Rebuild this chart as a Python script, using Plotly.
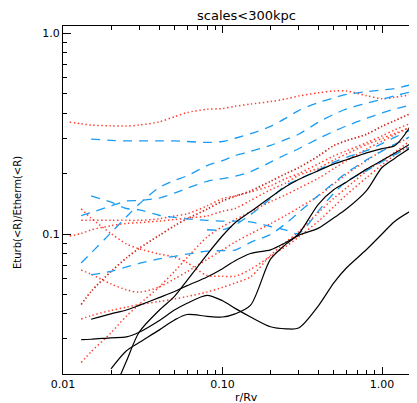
import math
import plotly.graph_objects as go

# radial grid r/Rv shared by all profiles
x_grid = [0.011, 0.013, 0.015, 0.02, 0.025, 0.03, 0.04, 0.05, 0.06, 0.08, 0.1, 0.12,
          0.15, 0.2, 0.25, 0.3, 0.4, 0.5, 0.6, 0.8, 1.0, 1.2, 1.5, 1.85]
N = None

# black solid profiles
black_1 = [N, N, 0.0376, 0.0400, 0.0418, 0.0441, 0.0482, 0.0517, 0.0553, 0.0611, 0.0672, 0.0736,
           0.0800, 0.0834, 0.0908, 0.0985, 0.107, 0.1205, 0.1335, 0.1645, 0.2145, 0.238, 0.268, 0.300]
black_2 = [N, N, N, 0.0154, 0.0233, 0.0324, 0.0416, 0.0489, 0.0588, 0.0790, 0.0980, 0.1138,
           0.1293, 0.1525, 0.1723, 0.187, 0.207, 0.2235, 0.2345, 0.2535, 0.2665, 0.2752, 0.342, 0.466]
black_3 = [N, N, N, 0.0213, 0.0262, 0.0288, 0.0332, 0.0373, 0.0397, 0.0389, 0.0386, 0.0400,
           0.0442, 0.0749, 0.0890, 0.1000, 0.141, 0.1665, 0.1815, 0.2105, 0.2325, 0.2525, 0.281, 0.312]
black_4 = [N, 0.0298, 0.0299, 0.0304, 0.0307, 0.0324, 0.0370, 0.0418, 0.0452, 0.0495, 0.0465, 0.0426,
           0.0386, 0.0345, 0.0337, 0.0340, 0.0440, 0.0573, 0.0679, 0.0837, 0.1000, 0.1155, 0.1297, 0.142]

# red dotted profiles
red_1 = [0.361, 0.354, 0.349, 0.346, 0.345, 0.349, 0.362, 0.384, 0.403, 0.418, 0.422, 0.433,
         0.444, 0.457, 0.471, 0.487, 0.505, 0.516, 0.516, 0.489, 0.472, 0.480, 0.494, 0.510]
red_2 = [N, 0.117, 0.117, 0.117, 0.117, 0.117, 0.119, 0.123, 0.126, 0.138, 0.150, 0.155,
         0.162, 0.174, 0.189, 0.200, 0.224, 0.245, 0.260, 0.285, 0.308, 0.330, 0.355, 0.378]
red_3 = [0.0977, 0.1006, 0.1048, 0.110, 0.113, 0.114, 0.116, 0.118, 0.120, 0.123, 0.130, 0.134,
         0.147, 0.166, 0.180, 0.196, 0.213, 0.234, 0.251, 0.279, 0.299, 0.317, 0.340, 0.365]
red_4 = [N, 0.0445, 0.0517, 0.0650, 0.0760, 0.0849, 0.0983, 0.110, 0.119, 0.133, 0.146, 0.154,
         0.164, 0.183, 0.200, 0.214, 0.245, 0.276, 0.292, 0.314, 0.344, 0.367, 0.397, 0.424]
red_5 = [N, 0.1335, 0.120, 0.1005, 0.0892, 0.0844, 0.0795, 0.0767, 0.0720, 0.0622, 0.0616, 0.0616,
         0.0667, 0.0774, 0.0867, 0.0966, 0.116, 0.137, 0.157, 0.191, 0.221, 0.247, 0.277, 0.307]
red_6 = [N, 0.0661, 0.0631, 0.0564, 0.0527, 0.0513, 0.0544, 0.0598, 0.0649, 0.0747, 0.0832, 0.0912,
         0.1003, 0.1125, 0.124, 0.135, 0.155, 0.178, 0.199, 0.232, 0.260, 0.279, 0.304, 0.330]
red_7 = [N, 0.0377, 0.0392, 0.0416, 0.0432, 0.0445, 0.0461, 0.0475, 0.0488, 0.0514, 0.0542, 0.0570,
         0.0612, 0.0782, 0.0913, 0.1025, 0.128, 0.151, 0.170, 0.206, 0.232, 0.255, 0.292, 0.330]
red_8 = [N, 0.0229, 0.0259, 0.0322, 0.0390, 0.0446, 0.0544, 0.0651, 0.0762, 0.0966, 0.1088, 0.118,
         0.129, 0.145, 0.157, 0.169, 0.190, 0.212, 0.232, 0.265, 0.290, 0.312, 0.341, 0.370]

# blue dashed profiles
blue_1 = [N, N, 0.297, 0.293, 0.291, 0.291, 0.291, 0.291, 0.289, 0.286, 0.289, 0.300,
          0.316, 0.344, 0.378, 0.412, 0.452, 0.477, 0.496, 0.512, 0.522, 0.531, 0.553, 0.578]
blue_2 = [N, 0.0717, 0.0804, 0.1015, 0.122, 0.141, 0.170, 0.185, 0.195, 0.219, 0.232, 0.246,
          0.258, 0.2765, 0.296, 0.314, 0.361, 0.395, 0.420, 0.448, 0.469, 0.488, 0.510, 0.533]
blue_3 = [N, 0.1235, 0.128, 0.138, 0.146, 0.147, 0.151, 0.160, 0.169, 0.183, 0.189, 0.194,
          0.2045, 0.228, 0.249, 0.266, 0.299, 0.325, 0.346, 0.377, 0.401, 0.419, 0.439, 0.460]
blue_4 = [N, N, 0.155, 0.144, 0.134, 0.132, 0.124, 0.121, 0.119, 0.117, 0.116, 0.116,
          0.115, 0.109, 0.1045, 0.1005, 0.1305, 0.160, 0.183, 0.207, 0.229, 0.2485, 0.272, 0.300]
blue_5 = [N, N, 0.0627, 0.0652, 0.0686, 0.0713, 0.0751, 0.0774, 0.0794, 0.0821, 0.0827, 0.0832,
          0.0909, 0.0995, 0.113, 0.128, 0.156, 0.180, 0.202, 0.234, 0.259, 0.280, 0.305, 0.330]
blue_6 = [N, N, N, N, N, N, N, N, N, 0.105, 0.105, 0.111,
          0.125, 0.150, 0.175, 0.187, 0.209, 0.228, 0.241, 0.260, 0.282, 0.303, 0.329, 0.352]

x_tickvals = [0.01, 0.1, 1.0]
x_ticktext = ["0.01", "0.10", "1.00"]
x_minor = [0.02, 0.03, 0.04, 0.05, 0.06, 0.07, 0.08, 0.09,
           0.2, 0.3, 0.4, 0.5, 0.6, 0.7, 0.8, 0.9]
y_tickvals = [0.1, 1.0]
y_ticktext = ["0.1", "1.0"]
y_minor = [0.03, 0.04, 0.05, 0.06, 0.07, 0.08, 0.09,
           0.2, 0.3, 0.4, 0.5, 0.6, 0.7, 0.8, 0.9]

fig = go.Figure()

def add(ys, color, dash, width):
    pts = [(x, y) for x, y in zip(x_grid, ys) if y is not None]
    fig.add_trace(go.Scatter(
        x=[p[0] for p in pts], y=[p[1] for p in pts], mode="lines",
        line=dict(color=color, dash=dash, width=width, shape="spline", smoothing=0.8),
        showlegend=False, hoverinfo="skip"))

RED = "#ff3b2b"
BLUE = "#1a9cf5"
for ys in [red_1, red_2, red_3, red_5, red_6, red_7, red_8]:
    add(ys, RED, "1.4px,2.6px", 1.5)
add(red_4, "#c8281e", "1.4px,2.2px", 1.7)
for ys in [blue_1, blue_2, blue_3, blue_4, blue_5, blue_6]:
    add(ys, BLUE, "9px,7px", 1.3)
for ys in [black_1, black_2, black_3, black_4]:
    add(ys, "black", "solid", 1.2)

FONT = "DejaVu Sans"
fig.update_layout(
    width=417, height=403,
    margin=dict(l=55, r=0, t=18, b=37),
    paper_bgcolor="white", plot_bgcolor="white",
    font=dict(family=FONT, size=11, color="black"),
    xaxis=dict(type="log", range=[-2, 0.2696], showgrid=False, zeroline=False,
               showline=True, linecolor="black", linewidth=1, mirror="ticks",
               ticks="inside", ticklen=7, tickcolor="black", tickwidth=1,
               tickvals=x_tickvals, ticktext=x_ticktext,
               minor=dict(ticks="inside", ticklen=4, tickcolor="black", showgrid=False,
                          tickvals=x_minor)),
    yaxis=dict(type="log", range=[-1.6975, 0.0364], showgrid=False, zeroline=False,
               showline=True, linecolor="black", linewidth=1,
               ticks="inside", ticklen=8, tickcolor="black", tickwidth=1,
               tickvals=y_tickvals, ticktext=y_ticktext,
               minor=dict(ticks="inside", ticklen=4, tickcolor="black", showgrid=False,
                          tickvals=y_minor)),
    annotations=[
        dict(text="scales&lt;300kpc", xref="paper", yref="paper",
             x=(238 - 55) / 362, y=(366 - 8) / 348, xanchor="center", yanchor="middle",
             showarrow=False, font=dict(family=FONT, size=13)),
        dict(text="r/Rv", xref="paper", yref="paper",
             x=(238 - 55) / 362, y=(366 - 390) / 348, xanchor="center", yanchor="middle",
             showarrow=False, font=dict(family=FONT, size=11)),
        dict(text="Eturb(&lt;R)/Etherm(&lt;R)", xref="paper", yref="paper",
             x=(9 - 55) / 362, y=(366 - 205) / 348, xanchor="center", yanchor="middle",
             textangle=-90, showarrow=False, font=dict(family=FONT, size=10)),
    ],
)

fig.write_html("out.html")
